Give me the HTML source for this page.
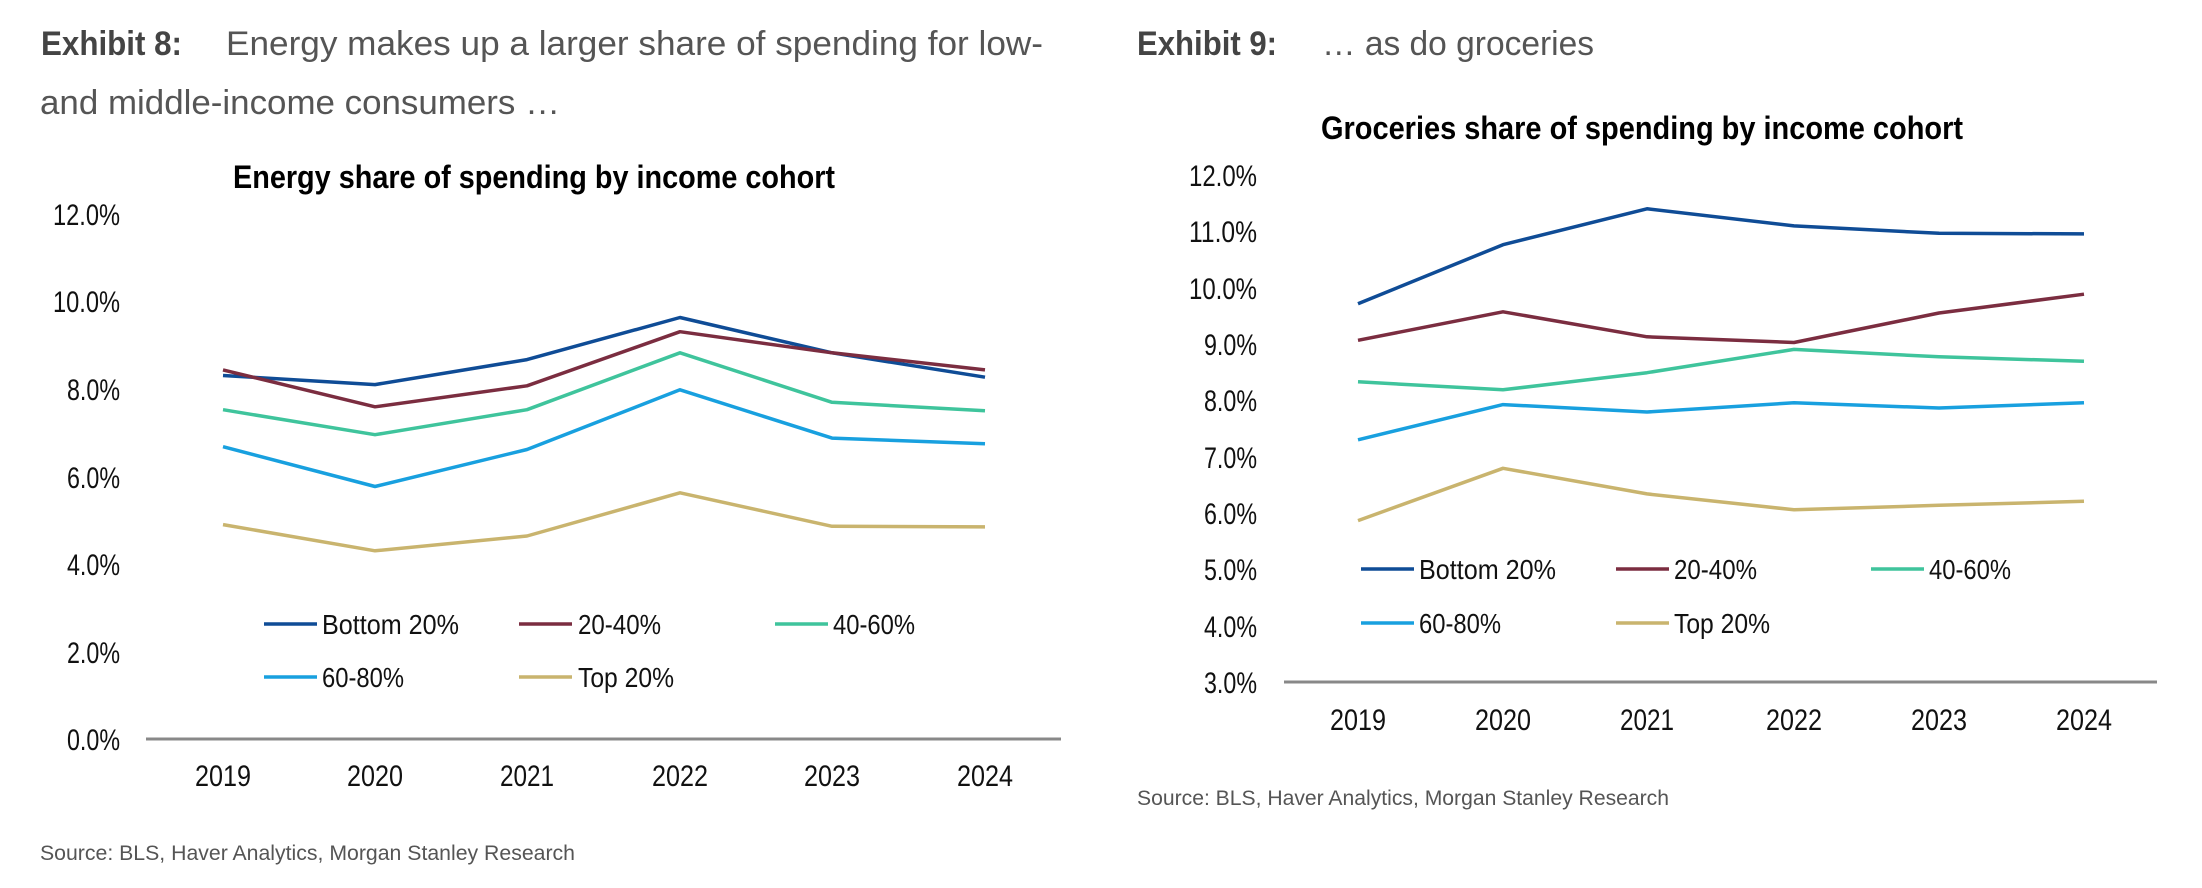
<!DOCTYPE html>
<html><head><meta charset="utf-8"><style>
html,body{margin:0;padding:0;background:#fff;}
svg{display:block;}
text{font-family:"Liberation Sans Narrow","Liberation Sans",sans-serif;}
.t{font-family:"Liberation Sans",sans-serif;}
</style></head><body>
<svg width="2202" height="888" viewBox="0 0 2202 888" xmlns="http://www.w3.org/2000/svg">
<!-- Left header -->
<text class="t" x="41" y="55" font-size="34" font-weight="bold" fill="#444" textLength="141" lengthAdjust="spacingAndGlyphs">Exhibit 8:</text>
<text class="t" x="226" y="55" font-size="34" fill="#555" textLength="817" lengthAdjust="spacingAndGlyphs">Energy makes up a larger share of spending for low-</text>
<text class="t" x="40" y="114" font-size="34" fill="#555" textLength="520" lengthAdjust="spacingAndGlyphs">and middle-income consumers …</text>
<text x="233" y="188" font-size="32" font-weight="bold" fill="#000" textLength="602" lengthAdjust="spacingAndGlyphs">Energy share of spending by income cohort</text>
<g font-size="30" fill="#111" text-anchor="end" lengthAdjust="spacingAndGlyphs">
<text x="120" y="225" textLength="67" lengthAdjust="spacingAndGlyphs">12.0%</text><text x="120" y="312" textLength="67" lengthAdjust="spacingAndGlyphs">10.0%</text><text x="120" y="400" textLength="53" lengthAdjust="spacingAndGlyphs">8.0%</text><text x="120" y="488" textLength="53" lengthAdjust="spacingAndGlyphs">6.0%</text><text x="120" y="575" textLength="53" lengthAdjust="spacingAndGlyphs">4.0%</text><text x="120" y="663" textLength="53" lengthAdjust="spacingAndGlyphs">2.0%</text><text x="120" y="750" textLength="53" lengthAdjust="spacingAndGlyphs">0.0%</text>
</g>
<line x1="146" y1="739" x2="1061" y2="739" stroke="#888" stroke-width="3"/>
<g font-size="30" fill="#111" text-anchor="middle">
<text x="223" y="786" textLength="56" lengthAdjust="spacingAndGlyphs">2019</text><text x="375" y="786" textLength="56" lengthAdjust="spacingAndGlyphs">2020</text><text x="527" y="786" textLength="54" lengthAdjust="spacingAndGlyphs">2021</text><text x="680" y="786" textLength="56" lengthAdjust="spacingAndGlyphs">2022</text><text x="832" y="786" textLength="56" lengthAdjust="spacingAndGlyphs">2023</text><text x="985" y="786" textLength="56" lengthAdjust="spacingAndGlyphs">2024</text>
</g>
<g fill="none" stroke-width="3.5" stroke-linejoin="round">
<polyline stroke="#0f4c96" points="223,375.5 375,384.6 527,359.6 680,317.5 832,352.8 985,377.2"/>
<polyline stroke="#7b2d40" points="223,369.9 375,406.8 527,385.8 680,331.7 832,352.8 985,369.9"/>
<polyline stroke="#3fc49c" points="223,409.7 375,434.7 527,409.7 680,352.8 832,402.3 985,410.8"/>
<polyline stroke="#18a0df" points="223,446.7 375,486.5 527,449.5 680,389.8 832,438.1 985,443.8"/>
<polyline stroke="#c9b46e" points="223,524.6 375,550.8 527,536 680,492.8 832,526.3 985,526.9"/>
</g>
<g stroke-width="3.5">
<line x1="264" y1="624" x2="317" y2="624" stroke="#0f4c96"/>
<line x1="519" y1="624" x2="572" y2="624" stroke="#7b2d40"/>
<line x1="775" y1="624" x2="828" y2="624" stroke="#3fc49c"/>
<line x1="264" y1="677" x2="317" y2="677" stroke="#18a0df"/>
<line x1="519" y1="677" x2="572" y2="677" stroke="#c9b46e"/>
</g>
<g font-size="28" fill="#111">
<text x="322" y="634" textLength="137" lengthAdjust="spacingAndGlyphs">Bottom 20%</text>
<text x="578" y="634" textLength="83" lengthAdjust="spacingAndGlyphs">20-40%</text>
<text x="833" y="634" textLength="82" lengthAdjust="spacingAndGlyphs">40-60%</text>
<text x="322" y="687" textLength="82" lengthAdjust="spacingAndGlyphs">60-80%</text>
<text x="578" y="687" textLength="96" lengthAdjust="spacingAndGlyphs">Top 20%</text>
</g>
<text class="t" x="40" y="860" font-size="21" fill="#555" textLength="535" lengthAdjust="spacingAndGlyphs">Source: BLS, Haver Analytics, Morgan Stanley Research</text>

<!-- Right header -->
<text class="t" x="1137" y="55" font-size="34" font-weight="bold" fill="#444" textLength="140" lengthAdjust="spacingAndGlyphs">Exhibit 9:</text>
<text class="t" x="1322" y="55" font-size="34" fill="#555" textLength="272" lengthAdjust="spacingAndGlyphs">… as do groceries</text>
<text x="1321" y="139" font-size="32" font-weight="bold" fill="#000" textLength="642" lengthAdjust="spacingAndGlyphs">Groceries share of spending by income cohort</text>
<g font-size="30" fill="#111" text-anchor="end">
<text x="1257" y="186" textLength="68" lengthAdjust="spacingAndGlyphs">12.0%</text><text x="1257" y="242" textLength="68" lengthAdjust="spacingAndGlyphs">11.0%</text><text x="1257" y="299" textLength="68" lengthAdjust="spacingAndGlyphs">10.0%</text><text x="1257" y="355" textLength="53" lengthAdjust="spacingAndGlyphs">9.0%</text><text x="1257" y="411" textLength="53" lengthAdjust="spacingAndGlyphs">8.0%</text><text x="1257" y="468" textLength="53" lengthAdjust="spacingAndGlyphs">7.0%</text><text x="1257" y="524" textLength="53" lengthAdjust="spacingAndGlyphs">6.0%</text><text x="1257" y="580" textLength="53" lengthAdjust="spacingAndGlyphs">5.0%</text><text x="1257" y="637" textLength="53" lengthAdjust="spacingAndGlyphs">4.0%</text><text x="1257" y="693" textLength="53" lengthAdjust="spacingAndGlyphs">3.0%</text>
</g>
<line x1="1284" y1="682" x2="2157" y2="682" stroke="#888" stroke-width="3"/>
<g font-size="30" fill="#111" text-anchor="middle">
<text x="1358" y="730" textLength="56" lengthAdjust="spacingAndGlyphs">2019</text><text x="1503" y="730" textLength="56" lengthAdjust="spacingAndGlyphs">2020</text><text x="1647" y="730" textLength="54" lengthAdjust="spacingAndGlyphs">2021</text><text x="1794" y="730" textLength="56" lengthAdjust="spacingAndGlyphs">2022</text><text x="1939" y="730" textLength="56" lengthAdjust="spacingAndGlyphs">2023</text><text x="2084" y="730" textLength="56" lengthAdjust="spacingAndGlyphs">2024</text>
</g>
<g fill="none" stroke-width="3.5" stroke-linejoin="round">
<polyline stroke="#0f4c96" points="1358,303.8 1503,244.7 1647,208.8 1794,225.9 1939,233.3 2084,233.9"/>
<polyline stroke="#7b2d40" points="1358,340.3 1503,311.8 1647,336.8 1794,342.5 1939,313 2084,294.2"/>
<polyline stroke="#3fc49c" points="1358,381.8 1503,389.8 1647,372.7 1794,349.4 1939,356.8 2084,361.3"/>
<polyline stroke="#18a0df" points="1358,439.8 1503,404.6 1647,412 1794,402.8 1939,408 2084,402.8"/>
<polyline stroke="#c9b46e" points="1358,520.6 1503,468.3 1647,493.9 1794,509.8 1939,505.3 2084,501.3"/>
</g>
<g stroke-width="3.5">
<line x1="1361" y1="569" x2="1414" y2="569" stroke="#0f4c96"/>
<line x1="1616" y1="569" x2="1669" y2="569" stroke="#7b2d40"/>
<line x1="1871" y1="569" x2="1924" y2="569" stroke="#3fc49c"/>
<line x1="1361" y1="623" x2="1414" y2="623" stroke="#18a0df"/>
<line x1="1616" y1="623" x2="1669" y2="623" stroke="#c9b46e"/>
</g>
<g font-size="28" fill="#111">
<text x="1419" y="579" textLength="137" lengthAdjust="spacingAndGlyphs">Bottom 20%</text>
<text x="1674" y="579" textLength="83" lengthAdjust="spacingAndGlyphs">20-40%</text>
<text x="1929" y="579" textLength="82" lengthAdjust="spacingAndGlyphs">40-60%</text>
<text x="1419" y="633" textLength="82" lengthAdjust="spacingAndGlyphs">60-80%</text>
<text x="1674" y="633" textLength="96" lengthAdjust="spacingAndGlyphs">Top 20%</text>
</g>
<text class="t" x="1137" y="805" font-size="21" fill="#555" textLength="532" lengthAdjust="spacingAndGlyphs">Source: BLS, Haver Analytics, Morgan Stanley Research</text>
</svg>
</body></html>
